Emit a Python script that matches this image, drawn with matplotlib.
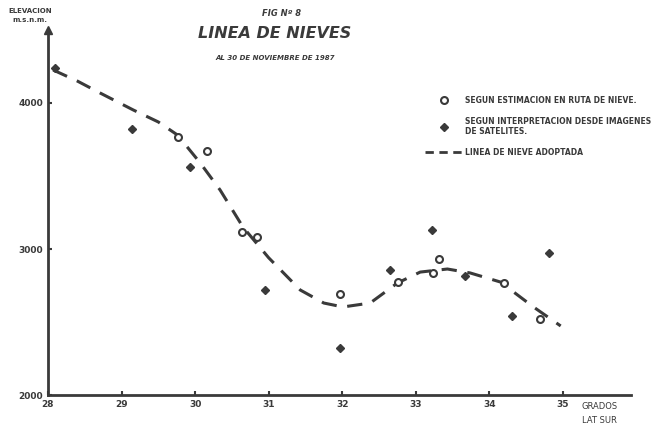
import matplotlib.pyplot as plt
from matplotlib.lines import Line2D

# Puntos segun estimacion en ruta de nieve (circulos)
ruta_lat = [29.77, 30.16, 30.64, 30.84, 31.97, 32.76, 33.24, 33.31, 34.2, 34.69]
ruta_elev = [3767, 3671, 3116, 3082, 2692, 2774, 2836, 2932, 2767, 2521]

# Puntos segun imagenes de satelite (rombos)
sat_lat = [28.1, 29.14, 29.93, 30.95, 31.97, 32.65, 33.22, 33.67, 34.31, 34.81]
sat_elev = [4240, 3822, 3562, 2719, 2322, 2856, 3130, 2815, 2541, 2973]

# Linea de nieve adoptada
linea_lat = [28.07, 28.4, 28.71, 29.16, 29.5, 29.76, 30.07, 30.34, 30.65, 31.0,
             31.43, 31.75, 32.01, 32.38, 32.75, 33.06, 33.43, 33.74, 34.15, 34.6, 34.97]
linea_elev = [4226, 4150, 4068, 3952, 3870, 3781, 3589, 3404, 3151, 2940,
              2719, 2630, 2603, 2630, 2767, 2842, 2863, 2836, 2774, 2603, 2473]

x_ticks = [28, 29, 30, 31, 32, 33, 34, 35]
y_ticks = [2000, 3000, 4000]

ink = '#3a3a3a'
plt.rcParams['font.family'] = 'DejaVu Sans'

fig = plt.figure(figsize=(6.62, 4.32), dpi=100)
ax = fig.add_axes([0.0725, 0.0856, 0.88, 0.845])

ax.plot(linea_lat, linea_elev, color=ink, lw=2.2, dashes=(5, 3.5))
ax.plot(ruta_lat, ruta_elev, 'o', mfc='white', mec=ink, mew=1.5, ms=5, ls='none')
ax.plot(sat_lat, sat_elev, 'D', color=ink, ms=4, ls='none')

ax.set_xlim(28, 35.92)
ax.set_ylim(2000, 4500)
for s in ['top', 'right']:
    ax.spines[s].set_visible(False)
for s in ['left', 'bottom']:
    ax.spines[s].set_linewidth(2)
    ax.spines[s].set_color(ink)

# flecha del eje vertical
ax.plot([0], [1], marker='^', color=ink, ms=6, transform=ax.transAxes, clip_on=False)

ax.set_xticks(x_ticks)
ax.set_yticks(y_ticks)
ax.tick_params(direction='in', length=3, width=1.5, color=ink, labelcolor=ink,
               labelsize=6.5)
for lab in ax.get_xticklabels() + ax.get_yticklabels():
    lab.set_fontweight('bold')

fig.text(0.905, 0.043, 'GRADOS\nLAT SUR', fontsize=6, color=ink,
         ha='center', va='center', linespacing=1.6)
fig.text(0.045, 0.965, 'ELEVACION\nm.s.n.m.', fontsize=5, fontweight='bold',
         color=ink, ha='center', va='center', linespacing=1.6)

fig.text(0.425, 0.968, 'FIG Nº 8', fontsize=6, fontweight='bold', style='italic',
         color=ink, ha='center', va='center')
fig.text(0.415, 0.922, 'LINEA DE NIEVES', fontsize=11.5, fontweight='bold',
         style='italic', color=ink, ha='center', va='center')
fig.text(0.415, 0.866, 'AL 30 DE NOVIEMBRE DE 1987', fontsize=5, fontweight='bold',
         style='italic', color=ink, ha='center', va='center')

handles = [
    Line2D([], [], marker='o', mfc='white', mec=ink, mew=1.5, ms=5, ls='none'),
    Line2D([], [], marker='D', color=ink, ms=4, ls='none'),
    Line2D([], [], color=ink, lw=2, dashes=(3, 2)),
]
labels = ['SEGUN ESTIMACION EN RUTA DE NIEVE.',
          'SEGUN INTERPRETACION DESDE IMAGENES\nDE SATELITES.',
          'LINEA DE NIEVE ADOPTADA']
leg = ax.legend(handles, labels, loc='upper left', bbox_to_anchor=(0.635, 0.838),
                frameon=False, handlelength=5, handletextpad=0.3,
                labelspacing=1.55, prop={'size': 5.5, 'weight': 'bold'})
for t in leg.get_texts():
    t.set_color(ink)

fig.savefig('out.png', dpi=100)
